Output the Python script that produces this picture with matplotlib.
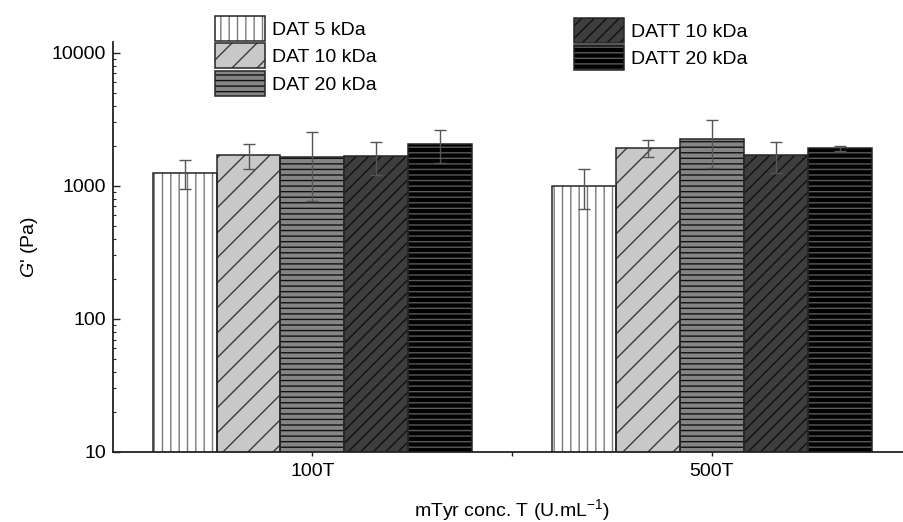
import matplotlib
matplotlib.use("Agg")
import matplotlib.pyplot as plt
import matplotlib.hatch as mhatch
from matplotlib.patches import Patch, Rectangle
from matplotlib.legend_handler import HandlerBase
from matplotlib.ticker import FixedLocator, LogLocator, NullFormatter
import numpy as np

plt.rcParams['font.family'] = ['Liberation Sans', 'DejaVu Sans']
plt.rcParams['mathtext.fontset'] = 'custom'
plt.rcParams['mathtext.rm'] = 'Liberation Sans'
plt.rcParams['mathtext.it'] = 'Liberation Sans:italic'
plt.rcParams['hatch.linewidth'] = 1.0


# Slightly finer diagonal hatching than the default density
# (factor chosen so the line count per tile stays even and tiles seamlessly)
class _FinerNorthEastHatch(mhatch.NorthEastHatch):
    def __init__(self, hatch, density):
        super().__init__(hatch, density * 1.34)


if hasattr(mhatch, '_hatch_types'):
    mhatch._hatch_types = [_FinerNorthEastHatch if t is mhatch.NorthEastHatch else t
                           for t in mhatch._hatch_types]

# Data
groups = ["100T", "500T"]
series = ["DAT 5 kDa", "DAT 10 kDa", "DAT 20 kDa", "DATT 10 kDa", "DATT 20 kDa"]
g_prime = {
    "DAT 5 kDa":   [1250, 1000],
    "DAT 10 kDa":  [1700, 1930],
    "DAT 20 kDa":  [1650, 2230],
    "DATT 10 kDa": [1670, 1700],
    "DATT 20 kDa": [2060, 1920],
}
g_prime_err = {
    "DAT 5 kDa":   [300, 330],
    "DAT 10 kDa":  [360, 290],
    "DAT 20 kDa":  [880, 880],
    "DATT 10 kDa": [470, 450],
    "DATT 20 kDa": [570, 80],
}

# Styles: face colour, hatch pattern, hatch colour
styles = {
    "DAT 5 kDa":   ("#ffffff", "||",  "#7a7a7a"),
    "DAT 10 kDa":  ("#c8c8c8", "/",   "#3a3a3a"),
    "DAT 20 kDa":  ("#858585", "---", "#111111"),
    "DATT 10 kDa": ("#3e3e3e", "//",  "#111111"),
    "DATT 20 kDa": ("#000000", "---", "#5a5a5a"),
}
outline = "#262626"


class StackedBarHandler(HandlerBase):
    """Legend key built from stacked patches (fill, hatch, outline), a bit taller than the row."""

    def __init__(self, grow=1.6):
        super().__init__()
        self.grow = grow

    def create_artists(self, legend, orig_handle, xdescent, ydescent,
                       width, height, fontsize, trans):
        artists = []
        for p in orig_handle:
            r = Rectangle((-xdescent, -ydescent - self.grow), width, height + 2 * self.grow)
            self.update_prop(r, p, legend)
            r.set_transform(trans)
            artists.append(r)
        return artists


W, H = 904, 522
fig = plt.figure(figsize=(W / 100, H / 100), dpi=100)
ax = fig.add_axes([112.7 / W, (H - 452) / H, 799 / W, (452 - 41.7) / H])

x = np.arange(1, len(groups) + 1)
width = 0.16
n = len(series)
handles = []
for i, name in enumerate(series):
    fc, hatch, hc = styles[name]
    xs = x + (i - (n - 1) / 2) * width
    vals = g_prime[name]
    ax.bar(xs, vals, width, color=fc, linewidth=0, zorder=1)
    ax.bar(xs, vals, width, fill=False, hatch=hatch, edgecolor=hc, linewidth=0, zorder=1.5)
    ax.bar(xs, vals, width, fill=False, edgecolor=outline, linewidth=1.1, zorder=2)
    ax.errorbar(xs, vals, yerr=g_prime_err[name], fmt='none', ecolor='#555555',
                elinewidth=1.0, capsize=4, capthick=1.0, zorder=3)
    handles.append((Patch(facecolor=fc, edgecolor='none', linewidth=0),
                    Patch(fill=False, hatch=hatch, edgecolor=hc, linewidth=0),
                    Patch(fill=False, edgecolor=outline, linewidth=1.1)))

ax.set_yscale('log')
ax.set_ylim(10, 12100)
ax.set_xlim(0.5, 2.5)

ax.yaxis.set_major_locator(FixedLocator([10, 100, 1000, 10000]))
ax.yaxis.set_minor_locator(LogLocator(base=10, subs=np.arange(2, 10)))
ax.yaxis.set_minor_formatter(NullFormatter())
ax.set_yticklabels(["10", "100", "1000", "10000"])
ax.tick_params(axis='y', which='major', direction='in', length=5, width=1.0,
               labelsize=14, pad=5, colors='#222222', labelcolor='black')
ax.tick_params(axis='y', which='minor', direction='in', length=2.5, width=0.8,
               colors='#222222')

ax.set_xticks(x)
ax.set_xticklabels(groups)
ax.set_xticks([1.5], minor=True)
ax.tick_params(axis='x', which='major', direction='out', length=3, width=1.0,
               labelsize=14, pad=5, colors='#222222', labelcolor='black')
ax.tick_params(axis='x', which='minor', direction='out', length=3, width=1.0,
               colors='#222222')

for s in ['top', 'right']:
    ax.spines[s].set_visible(False)
for s in ['left', 'bottom']:
    ax.spines[s].set_linewidth(1.3)
    ax.spines[s].set_color('#222222')

ax.set_ylabel("$\\it{G}$' (Pa)", fontsize=14, labelpad=8)
ax.set_xlabel("mTyr conc. T (U.mL$^{-1}$)", fontsize=14, labelpad=12)

fs = 14
common = dict(frameon=False, fontsize=fs, handlelength=2.55, handleheight=1.25,
              labelspacing=0.34, handletextpad=0.4, borderpad=0, borderaxespad=0,
              handler_map={tuple: StackedBarHandler(grow=1.6)})
leg1 = fig.legend(handles[:3], series[:3], loc='upper left',
                  bbox_to_anchor=(215 / W, 1 - 18 / H), **common)
leg2 = fig.legend(handles[3:], series[3:], loc='upper left',
                  bbox_to_anchor=(574 / W, 1 - 20 / H), **common)

fig.savefig("out.png", dpi=100)
